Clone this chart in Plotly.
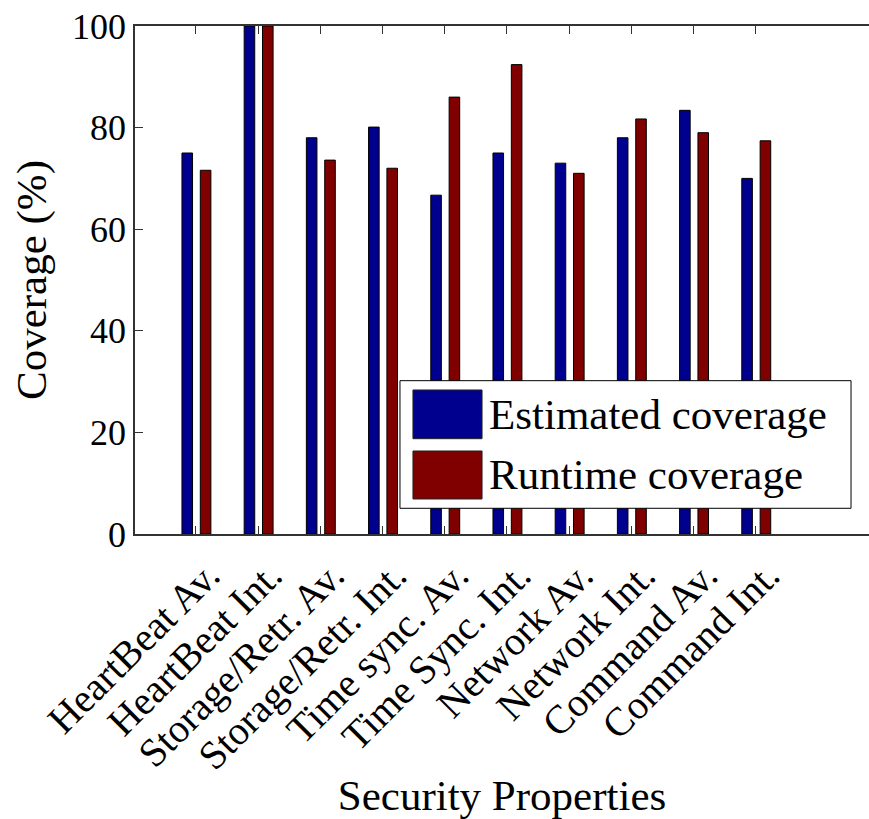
import plotly.graph_objects as go

categories = ["HeartBeat Av.", "HeartBeat Int.", "Storage/Retr. Av.", "Storage/Retr. Int.",
              "Time sync. Av.", "Time Sync. Int.", "Network Av.", "Network Int.",
              "Command Av.", "Command Int."]
estimated = [75.0, 100.0, 78.0, 80.1, 66.7, 75.0, 73.0, 78.0, 83.4, 70.0]
runtime = [71.6, 100.0, 73.6, 72.0, 86.0, 92.4, 71.0, 81.7, 79.0, 77.4]
y_ticks = [0, 20, 40, 60, 80, 100]

series_names = ["Estimated coverage", "Runtime coverage"]
colors = ["#00008F", "#800000"]

x = list(range(1, len(categories) + 1))
FONT = "Liberation Serif"

fig = go.Figure()
fig.add_trace(go.Bar(x=x, y=estimated, name=series_names[0], width=0.17, offset=-0.225,
                     marker=dict(color=colors[0], line=dict(color="black", width=1)),
                     showlegend=False))
fig.add_trace(go.Bar(x=x, y=runtime, name=series_names[1], width=0.17, offset=0.07,
                     marker=dict(color=colors[1], line=dict(color="black", width=1)),
                     showlegend=False))

# manual legend (large swatches like the original)
box = dict(x0=0.361, x1=0.9755, y0=0.0506, y1=0.3018)
rows = [(0.1876, 0.2835), (0.0689, 0.1634)]
fig.add_shape(type="rect", xref="paper", yref="paper", **box,
              line=dict(color="black", width=1), fillcolor="white", layer="above")
for (y0, y1), c, name in zip(rows, colors, series_names):
    fig.add_shape(type="rect", xref="paper", yref="paper", x0=0.3787, x1=0.4728, y0=y0, y1=y1,
                  line=dict(color="#222", width=1), fillcolor=c, layer="above")
    fig.add_annotation(xref="paper", yref="paper", x=0.4796, y=(y0 + y1) / 2,
                       text=name, showarrow=False, xanchor="left", yanchor="middle",
                       font=dict(family=FONT, size=43, color="black"))

fig.update_layout(
    width=869, height=819,
    margin=dict(l=135, r=0, t=26, b=285),
    paper_bgcolor="white", plot_bgcolor="white",
    barmode="overlay",
    font=dict(family=FONT, color="black"),
)
fig.update_xaxes(
    range=[0.02, 11.82], tickvals=x, ticktext=categories, tickangle=-45,
    tickfont=dict(family=FONT, size=40, color="black"),
    ticks="inside", ticklen=8, tickcolor="#333", tickwidth=1,
    showline=True, linecolor="#333", linewidth=1.5, mirror="ticks",
    showgrid=False, zeroline=False, ticklabelshift=12,
    title=dict(text="Security Properties", font=dict(family=FONT, size=43, color="black"), standoff=10),
)
fig.update_yaxes(
    range=[0, 100], tickvals=y_ticks,
    tickfont=dict(family=FONT, size=36, color="black"),
    ticks="inside", ticklen=8, tickcolor="#333", tickwidth=1,
    showline=True, linecolor="#333", linewidth=1.5, mirror=False,
    showgrid=False, zeroline=False,
    title=dict(text="Coverage (%)", font=dict(family=FONT, size=43, color="black"), standoff=12),
)

fig.write_html("out.html")
